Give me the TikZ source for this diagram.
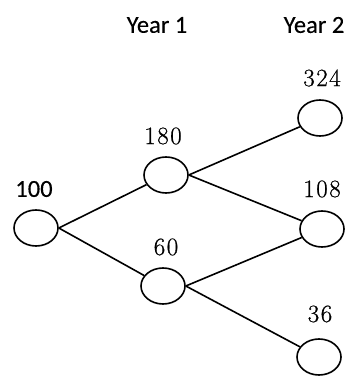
\documentclass[tikz,border=0pt]{standalone}
\usepackage{fontspec}
\usetikzlibrary{shapes.geometric}
\newfontfamily\sansf[FakeBold=0.2]{Carlito}
\newfontfamily\numf[LetterSpace=6,FakeBold=0.6]{Latin Modern Roman}
\begin{document}
\begin{tikzpicture}[x=1pt,y=-1pt,
  st/.style={draw=black,line width=1.6pt,ellipse,minimum width=44pt,minimum height=36pt,inner sep=0pt},
  sl/.style={font=\sansf\fontsize{24.5}{28}\selectfont,inner sep=0pt},
  nl/.style={font=\numf\fontsize{25}{28}\selectfont,inner sep=0pt},
  ed/.style={line width=1.6pt}]
\useasboundingbox (0,0) rectangle (345,379);
\node[sl] (y1) at (157,25) {Year 1};
\node[sl] (y2) at (314,25) {Year 2};
\node[st] (n100) at (36,228) {};
\node[st] (n180) at (166,175) {};
\node[st] (n60) at (163,286) {};
\node[st] (n324) at (320,118) {};
\node[st] (n108) at (322,229) {};
\node[st] (n36) at (319,357) {};
\node[sl] (l100) at (34,189) {100};
\node[nl] (l180) at (163,136) {180};
\node[nl] (l60) at (166,247) {60};
\node[nl] (l324) at (322,78) {324};
\node[nl] (l108) at (322,189) {108};
\node[nl] (l36) at (320,314) {36};
\draw[ed] (n100.east) -- (n180);
\draw[ed] (n100.east) -- (n60);
\draw[ed] (n180.east) -- (n324);
\draw[ed] (n180.east) -- (n108);
\draw[ed] (n60.east) -- (n108);
\draw[ed] (n60.east) -- (n36);
\end{tikzpicture}
\end{document}
